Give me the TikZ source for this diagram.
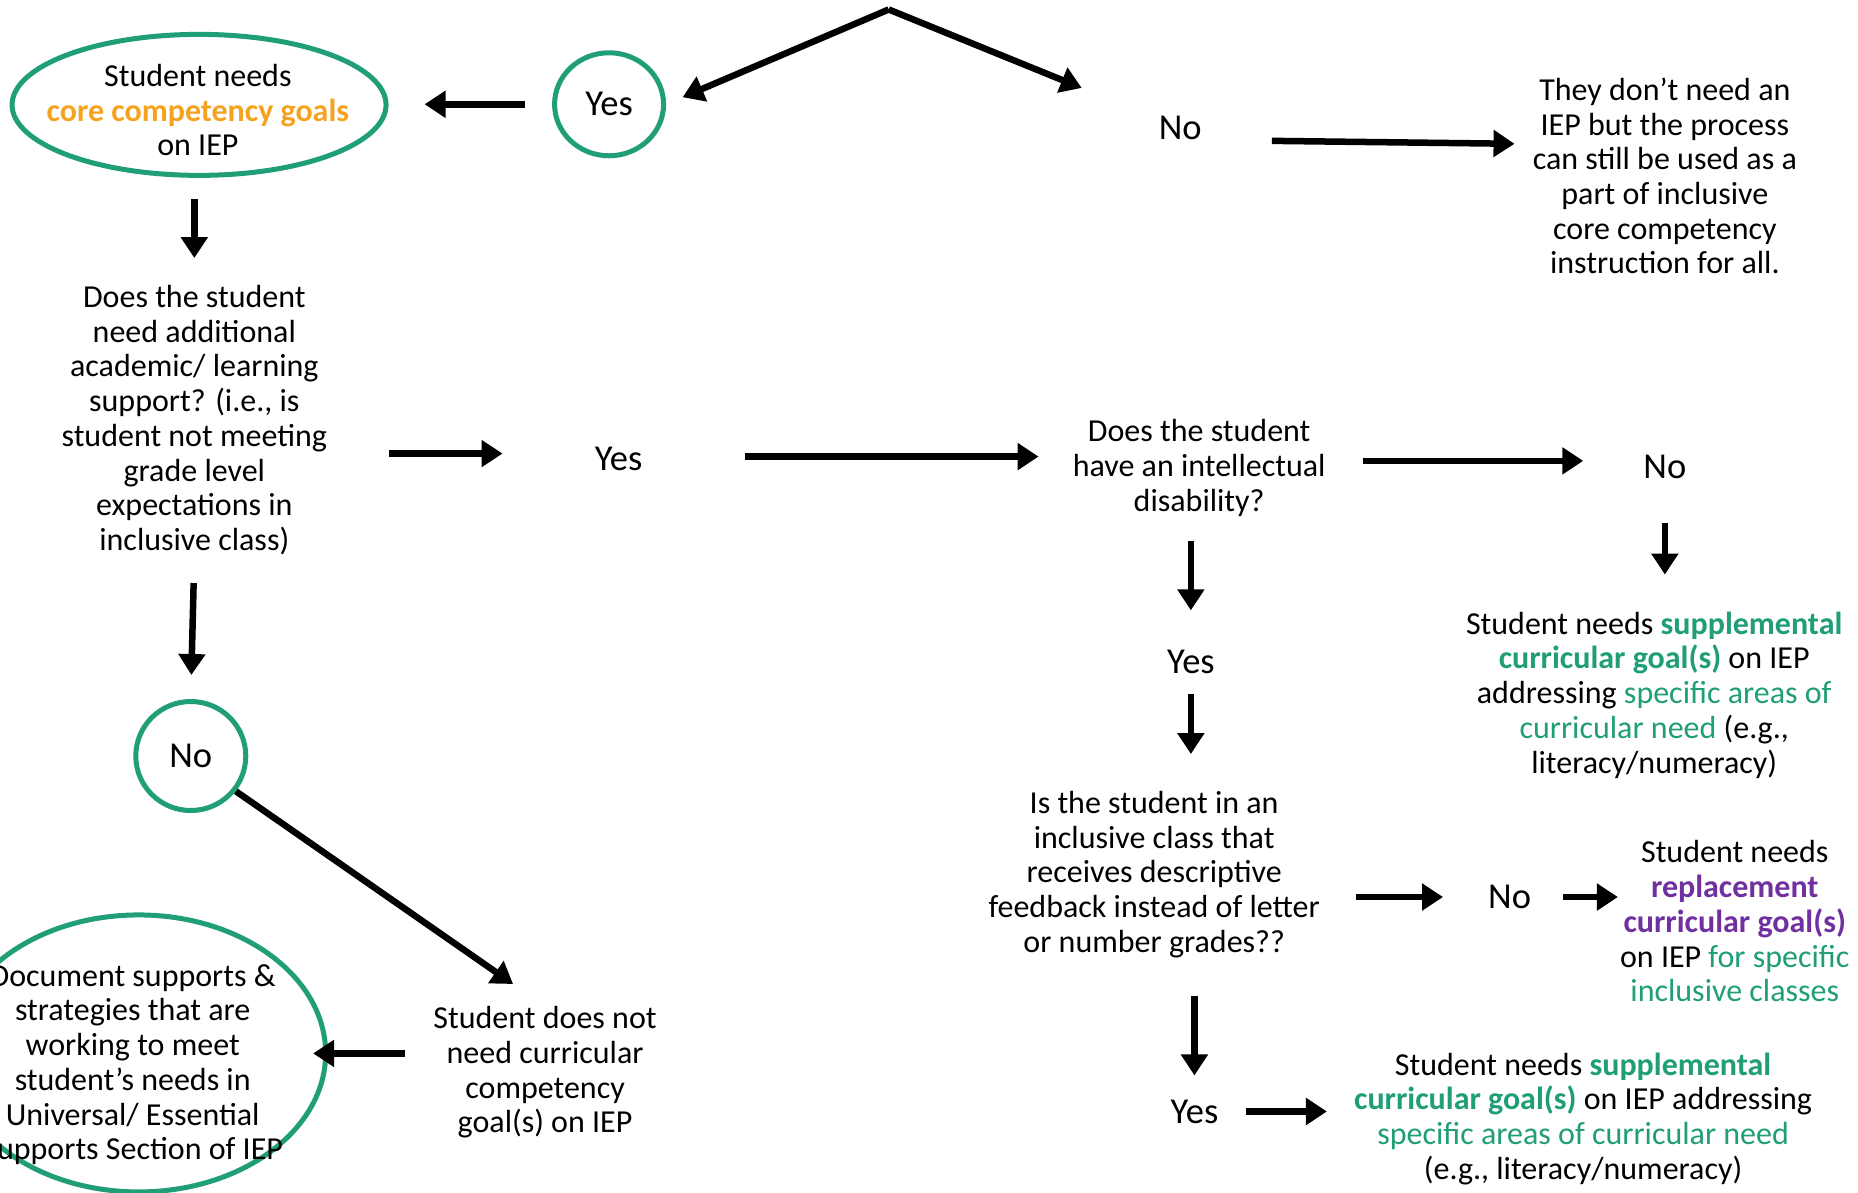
\documentclass[tikz,border=0pt]{standalone}
\usepackage{fontspec}
\setmainfont{Carlito}
\usetikzlibrary{arrows.meta,shapes.geometric}
\definecolor{iepgreen}{RGB}{31,158,120}
\definecolor{ieporange}{RGB}{245,163,30}
\definecolor{ieppurple}{RGB}{112,48,160}
\newcommand{\gtxt}[1]{\textcolor{iepgreen}{#1}}
\newcommand{\gbold}[1]{\textcolor{iepgreen}{\bfseries #1}}
\newcommand{\pbold}[1]{\textcolor{ieppurple}{\bfseries #1}}
\begin{document}
\begin{tikzpicture}[x=1.18495pt,y=-1.18495pt,
  txt/.style={align=center,inner sep=0pt,font=\fontsize{32}{34.7}\selectfont},
  lbl/.style={inner sep=0pt,font=\fontsize{36.5}{40}\selectfont},
  ring/.style={ellipse,draw=iepgreen,line width=5pt,inner sep=0pt},
  arr/.style={line width=6.5pt,-{Triangle[length=21pt,width=26pt]}}]
\useasboundingbox (0,0) rectangle (1568,1006);
\fill[white] (0,0) rectangle (1568,1006);
\begin{scope}
\clip (0,0) rectangle (1568,1006);

% top branch
\coordinate (apex) at (750,8);
\node[ring,minimum width=374pt,minimum height=141pt] (ell1) at (168,88.5) {};
\node[txt] (ell1text) at (167,93)
  {Student needs\\ \textcolor{ieporange}{\bfseries core competency goals}\\ on IEP};
\node[ring,lbl,minimum width=109pt,minimum height=103pt] (yes1) at (514,88) {Yes};
\node[lbl] (no1) at (996,108) {No};
\node[txt] (notneed) at (1405,148.5)
  {They don’t need an\\IEP but the process\\can still be used as a\\part of inclusive\\core competency\\instruction for all.};

% first question
\node[txt] (q1) at (164,354.5)
  {Does the student\\need additional\\academic/ learning\\support? (i.e., is\\student not meeting\\grade level\\expectations in\\inclusive class)};
\node[lbl] (yes2) at (522,387) {Yes};
\node[txt] (q2) at (1012,395) {Does the student\\have an intellectual\\disability?};
\node[lbl] (no2) at (1405,394) {No};
\node[txt] (supp1) at (1396,586.5)
  {Student needs \gbold{supplemental}\\\gbold{curricular goal(s)} on IEP\\addressing \gtxt{specific areas of}\\\gtxt{curricular need} (e.g.,\\literacy/numeracy)};
\node[lbl] (yes3) at (1005,559) {Yes};
\node[txt] (q3) at (974,738)
  {Is the student in an\\inclusive class that\\receives descriptive\\feedback instead of letter\\or number grades??};
\node[lbl] (no3) at (1274,757) {No};
\node[txt] (repl) at (1464,777.5)
  {Student needs\\\pbold{replacement}\\\pbold{curricular goal(s)}\\on IEP \gtxt{for specific}\\\gtxt{inclusive classes}};
\node[lbl] (yes4) at (1008,938) {Yes};
\node[txt] (supp2) at (1336,944)
  {Student needs \gbold{supplemental}\\\gbold{curricular goal(s)} on IEP addressing\\\gtxt{specific areas of curricular need}\\(e.g., literacy/numeracy)};

% lower left branch
\node[ring,lbl,minimum width=110pt,minimum height=109pt] (no4) at (161,638) {No};
\node[txt] (notcur) at (460,905)
  {Student does not\\need curricular\\competency\\goal(s) on IEP};
\node[ring,minimum width=374pt,minimum height=277pt] (doc) at (117,889) {};
\node[txt] (doctext) at (112,898.5)
  {Document supports \&\\strategies that are\\working to meet\\student’s needs in\\Universal/ Essential\\Supports Section of IEP};

% connectors
\draw[arr,shorten >=18pt] (apex) -- (yes1.east);
\draw[arr,shorten >=83pt] (apex) -- (no1);
\draw[arr,shorten <=27pt,shorten >=36pt] (yes1.west) -- (yes1.west -| ell1.east);
\draw[arr,shorten <=70pt,shorten >=18pt] (no1.south east) -- ([yshift=-4pt]no1.south east -| notneed.west);
\draw[arr,shorten <=21pt,shorten >=27pt] (q1.north |- ell1.south) -- (q1.north);
\draw[arr,shorten <=62pt,shorten >=92pt] ([yshift=5pt]q1.east |- yes2) -- ([yshift=5pt]yes2.west);
\draw[arr,shorten <=102pt,shorten >=34pt] ([yshift=2pt]yes2.east) -- ([yshift=2pt]yes2.east -| q2.west);
\draw[arr,shorten <=37pt,shorten >=60pt] ([yshift=6pt]no2.west -| q2.east) -- ([yshift=6pt]no2.west);
\draw[arr,shorten <=44pt,shorten >=37pt] (no2.south) -- (no2.south |- supp1.north);
\draw[arr,shorten <=24pt,shorten >=40pt] (yes3.north |- q2.south) -- (yes3.north);
\draw[arr,shorten <=20pt,shorten >=37pt] (yes3.south) -- (yes3.south |- q3.north);
\draw[arr,shorten <=36pt,shorten >=45pt] (no3.west -| q3.east) -- (no3.west);
\draw[arr,shorten <=32pt,shorten >=2pt] (no3.east) -- (no3.east -| repl.west);
\draw[arr,shorten <=38pt,shorten >=24pt] (yes4.north |- q3.south) -- (yes4.north);
\draw[arr,shorten <=28pt,shorten >=27pt] (yes4.east) -- (yes4.east -| supp2.west);
\draw[arr,shorten <=28pt,shorten >=24pt] (q1.south) -- (no4.north);
\draw[arr,shorten >=39pt] (no4.-38) -- (notcur.north);
\draw[arr,shorten <=28pt,shorten >=-15pt] (notcur.west |- doc.east) -- (doc.east);
\end{scope}
\end{tikzpicture}
\end{document}
